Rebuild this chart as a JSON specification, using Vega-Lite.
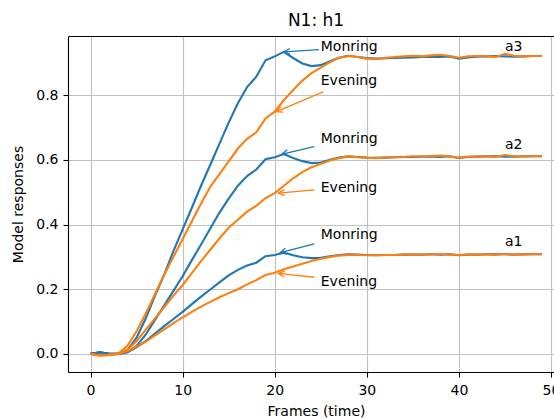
{
  "$schema": "https://vega.github.io/schema/vega-lite/v6.json",
  "width": 486,
  "height": 336,
  "autosize": {"type": "none"},
  "padding": {"left": 68, "top": 36, "right": 0, "bottom": 47},
  "background": "white",
  "title": {"text": "N1: h1", "fontSize": 17, "font": "DejaVu Sans", "fontWeight": "normal", "color": "#000", "anchor": "middle", "dx": 5, "offset": 6},
  "config": {
    "view": {"stroke": null},
    "font": "DejaVu Sans",
    "axis": {
      "labelFont": "DejaVu Sans", "labelFontSize": 14, "labelColor": "#000",
      "titleFont": "DejaVu Sans", "titleFontSize": 14, "titleFontWeight": "normal", "titleColor": "#000",
      "domainColor": "#000", "domainWidth": 1.1, "tickColor": "#000", "tickWidth": 1.1, "tickSize": 5,
      "gridColor": "#c2c2c2", "gridWidth": 1.1, "gridOpacity": 1, "labelPadding": 4
    }
  },
  "datasets": {
    "resp": [
      {"t":0,"a1m":0,"a1e":0,"a2m":0,"a2e":0,"a3m":0,"a3e":0},
      {"t":1,"a1m":0.005,"a1e":-0.005,"a2m":0.005,"a2e":-0.005,"a3m":0.005,"a3e":-0.005},
      {"t":2,"a1m":0,"a1e":-0.003,"a2m":0,"a2e":-0.003,"a3m":0,"a3e":-0.003},
      {"t":3,"a1m":0,"a1e":0,"a2m":0,"a2e":0,"a3m":0,"a3e":0},
      {"t":4,"a1m":0.005,"a1e":0.008,"a2m":0.005,"a2e":0.012,"a3m":0.012,"a3e":0.025},
      {"t":5,"a1m":0.02,"a1e":0.022,"a2m":0.025,"a2e":0.04,"a3m":0.05,"a3e":0.07},
      {"t":6,"a1m":0.04,"a1e":0.038,"a2m":0.06,"a2e":0.075,"a3m":0.11,"a3e":0.125},
      {"t":7,"a1m":0.063,"a1e":0.057,"a2m":0.105,"a2e":0.11,"a3m":0.18,"a3e":0.185},
      {"t":8,"a1m":0.086,"a1e":0.076,"a2m":0.15,"a2e":0.145,"a3m":0.245,"a3e":0.245},
      {"t":9,"a1m":0.108,"a1e":0.095,"a2m":0.195,"a2e":0.18,"a3m":0.318,"a3e":0.3},
      {"t":10,"a1m":0.13,"a1e":0.113,"a2m":0.24,"a2e":0.213,"a3m":0.385,"a3e":0.355},
      {"t":11,"a1m":0.154,"a1e":0.13,"a2m":0.29,"a2e":0.25,"a3m":0.452,"a3e":0.41},
      {"t":12,"a1m":0.177,"a1e":0.146,"a2m":0.338,"a2e":0.287,"a3m":0.52,"a3e":0.465},
      {"t":13,"a1m":0.199,"a1e":0.161,"a2m":0.388,"a2e":0.322,"a3m":0.585,"a3e":0.517},
      {"t":14,"a1m":0.221,"a1e":0.175,"a2m":0.437,"a2e":0.357,"a3m":0.65,"a3e":0.556},
      {"t":15,"a1m":0.243,"a1e":0.188,"a2m":0.48,"a2e":0.39,"a3m":0.715,"a3e":0.595},
      {"t":16,"a1m":0.26,"a1e":0.2,"a2m":0.52,"a2e":0.415,"a3m":0.775,"a3e":0.635},
      {"t":17,"a1m":0.273,"a1e":0.215,"a2m":0.55,"a2e":0.44,"a3m":0.825,"a3e":0.665},
      {"t":18,"a1m":0.282,"a1e":0.228,"a2m":0.57,"a2e":0.458,"a3m":0.857,"a3e":0.685},
      {"t":19,"a1m":0.302,"a1e":0.244,"a2m":0.602,"a2e":0.482,"a3m":0.908,"a3e":0.728},
      {"t":20,"a1m":0.306,"a1e":0.251,"a2m":0.608,"a2e":0.497,"a3m":0.92,"a3e":0.749},
      {"t":21,"a1m":0.313,"a1e":0.262,"a2m":0.618,"a2e":0.52,"a3m":0.934,"a3e":0.785},
      {"t":22,"a1m":0.305,"a1e":0.27,"a2m":0.606,"a2e":0.543,"a3m":0.915,"a3e":0.816},
      {"t":23,"a1m":0.299,"a1e":0.279,"a2m":0.596,"a2e":0.562,"a3m":0.898,"a3e":0.845},
      {"t":24,"a1m":0.296,"a1e":0.287,"a2m":0.59,"a2e":0.577,"a3m":0.89,"a3e":0.868},
      {"t":25,"a1m":0.297,"a1e":0.294,"a2m":0.592,"a2e":0.588,"a3m":0.893,"a3e":0.885},
      {"t":26,"a1m":0.302,"a1e":0.3,"a2m":0.6,"a2e":0.598,"a3m":0.905,"a3e":0.902},
      {"t":27,"a1m":0.306,"a1e":0.304,"a2m":0.607,"a2e":0.606,"a3m":0.916,"a3e":0.916},
      {"t":28,"a1m":0.308,"a1e":0.306,"a2m":0.611,"a2e":0.61,"a3m":0.922,"a3e":0.921},
      {"t":29,"a1m":0.307,"a1e":0.306,"a2m":0.609,"a2e":0.608,"a3m":0.918,"a3e":0.918},
      {"t":30,"a1m":0.306,"a1e":0.305,"a2m":0.607,"a2e":0.606,"a3m":0.915,"a3e":0.913},
      {"t":31,"a1m":0.305,"a1e":0.305,"a2m":0.606,"a2e":0.605,"a3m":0.913,"a3e":0.912},
      {"t":32,"a1m":0.306,"a1e":0.306,"a2m":0.607,"a2e":0.607,"a3m":0.914,"a3e":0.915},
      {"t":33,"a1m":0.306,"a1e":0.306,"a2m":0.608,"a2e":0.608,"a3m":0.915,"a3e":0.918},
      {"t":34,"a1m":0.307,"a1e":0.307,"a2m":0.609,"a2e":0.609,"a3m":0.916,"a3e":0.92},
      {"t":35,"a1m":0.307,"a1e":0.307,"a2m":0.609,"a2e":0.611,"a3m":0.917,"a3e":0.922},
      {"t":36,"a1m":0.307,"a1e":0.307,"a2m":0.61,"a2e":0.61,"a3m":0.918,"a3e":0.92},
      {"t":37,"a1m":0.308,"a1e":0.308,"a2m":0.61,"a2e":0.612,"a3m":0.919,"a3e":0.923},
      {"t":38,"a1m":0.307,"a1e":0.308,"a2m":0.609,"a2e":0.613,"a3m":0.918,"a3e":0.925},
      {"t":39,"a1m":0.308,"a1e":0.307,"a2m":0.611,"a2e":0.61,"a3m":0.92,"a3e":0.921},
      {"t":40,"a1m":0.305,"a1e":0.306,"a2m":0.606,"a2e":0.607,"a3m":0.913,"a3e":0.916},
      {"t":41,"a1m":0.307,"a1e":0.307,"a2m":0.609,"a2e":0.61,"a3m":0.917,"a3e":0.92},
      {"t":42,"a1m":0.307,"a1e":0.307,"a2m":0.61,"a2e":0.61,"a3m":0.919,"a3e":0.921},
      {"t":43,"a1m":0.308,"a1e":0.307,"a2m":0.611,"a2e":0.61,"a3m":0.92,"a3e":0.92},
      {"t":44,"a1m":0.308,"a1e":0.306,"a2m":0.611,"a2e":0.609,"a3m":0.921,"a3e":0.918},
      {"t":45,"a1m":0.308,"a1e":0.309,"a2m":0.61,"a2e":0.615,"a3m":0.92,"a3e":0.928},
      {"t":46,"a1m":0.307,"a1e":0.307,"a2m":0.61,"a2e":0.611,"a3m":0.919,"a3e":0.922},
      {"t":47,"a1m":0.308,"a1e":0.307,"a2m":0.611,"a2e":0.61,"a3m":0.92,"a3e":0.92},
      {"t":48,"a1m":0.308,"a1e":0.308,"a2m":0.611,"a2e":0.611,"a3m":0.921,"a3e":0.921},
      {"t":49,"a1m":0.308,"a1e":0.308,"a2m":0.611,"a2e":0.611,"a3m":0.921,"a3e":0.922}
    ],
    "notes": [
      {"x":25,"y":0.937,"label":"Monring"},
      {"x":25,"y":0.832,"label":"Evening"},
      {"x":25,"y":0.651,"label":"Monring"},
      {"x":25,"y":0.5,"label":"Evening"},
      {"x":25,"y":0.355,"label":"Monring"},
      {"x":25,"y":0.21,"label":"Evening"},
      {"x":45,"y":0.937,"label":"a3"},
      {"x":45,"y":0.634,"label":"a2"},
      {"x":45,"y":0.334,"label":"a1"}
    ],
    "arrows": [
      {"x":24.8,"y":0.941,"x2":21.0,"y2":0.934,"s":"Monring"},
      {"x":25.3,"y":0.811,"x2":20.2,"y2":0.749,"s":"Evening"},
      {"x":24.3,"y":0.641,"x2":20.8,"y2":0.618,"s":"Monring"},
      {"x":24.3,"y":0.507,"x2":20.4,"y2":0.497,"s":"Evening"},
      {"x":24.3,"y":0.34,"x2":20.6,"y2":0.313,"s":"Monring"},
      {"x":24.3,"y":0.237,"x2":20.4,"y2":0.249,"s":"Evening"}
    ]
  },
  "resolve": {"axis": {"x": "independent"}},
  "layer": [
    {
      "data": {"name": "resp"},
      "transform": [{"fold": ["a1m", "a2m", "a3m"], "as": ["key", "v"]}],
      "mark": {"type": "line", "color": "#1f77b4", "strokeWidth": 2.1},
      "encoding": {
        "x": {"field": "t", "type": "quantitative", "scale": {"domain": [-2.45, 50.33], "nice": false, "zero": false},
              "axis": {"values": [0, 10, 20, 30, 40, 50], "title": "Frames (time)", "grid": true, "titleX": 248, "labelPadding": 6, "titlePadding": 7}},
        "y": {"field": "v", "type": "quantitative", "scale": {"domain": [-0.056, 0.983], "nice": false, "zero": false},
              "axis": {"values": [0, 0.2, 0.4, 0.6, 0.8], "format": ".1f", "title": "Model responses", "grid": true, "labelPadding": 5, "titlePadding": 10}},
        "detail": {"field": "key"}
      }
    },
    {
      "data": {"name": "resp"},
      "transform": [{"fold": ["a1e", "a2e", "a3e"], "as": ["key", "v"]}],
      "mark": {"type": "line", "color": "#ff7f0e", "strokeWidth": 2.1},
      "encoding": {
        "x": {"field": "t", "type": "quantitative", "axis": null},
        "y": {"field": "v", "type": "quantitative"},
        "detail": {"field": "key"}
      }
    },
    {
      "data": {"name": "arrows"},
      "mark": {"type": "rule", "strokeWidth": 1.3},
      "encoding": {
        "x": {"field": "x", "type": "quantitative", "axis": null},
        "y": {"field": "y", "type": "quantitative"},
        "x2": {"field": "x2"},
        "y2": {"field": "y2"},
        "color": {"field": "s", "type": "nominal", "scale": {"domain": ["Monring", "Evening"], "range": ["#1f77b4", "#ff7f0e"]}, "legend": null}
      }
    },
    {
      "data": {"name": "arrows"},
      "transform": [{"calculate": "atan2(-(datum.y2 - datum.y) * 323.4, (datum.x2 - datum.x) * 9.208) * 180 / PI", "as": "ang"}],
      "mark": {"type": "point", "shape": "M-1,-0.5L0,0L-1,0.5", "filled": false, "strokeWidth": 1.3, "opacity": 1, "size": 144},
      "encoding": {
        "x": {"field": "x2", "type": "quantitative", "axis": null},
        "y": {"field": "y2", "type": "quantitative"},
        "angle": {"field": "ang", "type": "quantitative", "scale": null},
        "color": {"field": "s", "type": "nominal", "scale": {"domain": ["Monring", "Evening"], "range": ["#1f77b4", "#ff7f0e"]}, "legend": null}
      }
    },
    {
      "data": {"name": "notes"},
      "mark": {"type": "text", "align": "left", "baseline": "alphabetic", "fontSize": 14, "font": "DejaVu Sans", "color": "#000"},
      "encoding": {
        "x": {"field": "x", "type": "quantitative", "axis": null},
        "y": {"field": "y", "type": "quantitative"},
        "text": {"field": "label"}
      }
    },
    {
      "data": {"name": "notes"},
      "mark": {"type": "point", "opacity": 0},
      "encoding": {
        "x": {"field": "x", "type": "quantitative", "axis": {"orient": "top", "labels": false, "ticks": false, "grid": false, "title": null, "domain": true}},
        "y": {"field": "y", "type": "quantitative"}
      }
    }
  ]
}
